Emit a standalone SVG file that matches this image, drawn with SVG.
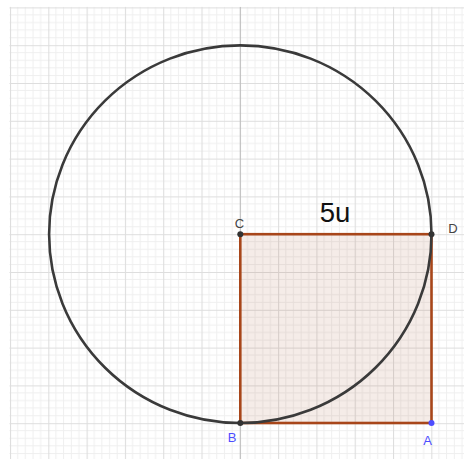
<svg xmlns="http://www.w3.org/2000/svg" width="464" height="459" viewBox="0 0 464 459">
<defs>
<style>
.minor{stroke:#efefef;stroke-width:1}
.major{stroke:#dedede;stroke-width:1.2}
.axis{stroke:#b4b4b4;stroke-width:0.8}
.lbl{font-family:"Liberation Sans",Arial,sans-serif;font-size:13px;text-anchor:middle}
.dark{fill:#444}
.blue{fill:#4d4dff}
</style>
<pattern id="grid" x="10" y="7.4" width="38.3" height="37.8" patternUnits="userSpaceOnUse">
<line class="minor" x1="7.66" y1="0" x2="7.66" y2="37.8"/>
<line class="minor" x1="15.32" y1="0" x2="15.32" y2="37.8"/>
<line class="minor" x1="22.98" y1="0" x2="22.98" y2="37.8"/>
<line class="minor" x1="30.64" y1="0" x2="30.64" y2="37.8"/>
<line class="minor" x1="0" y1="7.56" x2="38.3" y2="7.56"/>
<line class="minor" x1="0" y1="15.12" x2="38.3" y2="15.12"/>
<line class="minor" x1="0" y1="22.68" x2="38.3" y2="22.68"/>
<line class="minor" x1="0" y1="30.24" x2="38.3" y2="30.24"/>
<line class="major" x1="0.5" y1="0" x2="0.5" y2="37.8"/>
<line class="major" x1="0" y1="0.5" x2="38.3" y2="0.5"/>
</pattern>
</defs>
<rect width="464" height="459" fill="#ffffff"/>
<rect x="9.5" y="6.9" width="455" height="453" fill="url(#grid)"/>
<g id="axes">
<line class="axis" x1="240.3" y1="7" x2="240.3" y2="459"/>
</g>
<g id="square">
<rect x="240.3" y="234.2" width="191.2" height="188.8" fill="#a0461e" fill-opacity="0.1" stroke="#a8461a" stroke-width="2.6"/>
</g>
<g id="circle">
<ellipse cx="240.3" cy="234.2" rx="191.2" ry="188.8" fill="none" stroke="#3a3a3a" stroke-width="2.6"/>
</g>
<g id="pointC"><circle cx="240.3" cy="234.2" r="3" fill="#333"/><text class="lbl dark" x="239.5" y="228">C</text></g>
<g id="pointD"><circle cx="431.5" cy="234.2" r="3" fill="#333"/><text class="lbl dark" x="453" y="232.5">D</text></g>
<g id="pointB"><circle cx="240.3" cy="423" r="3" fill="#333"/><text class="lbl blue" x="232" y="442">B</text></g>
<g id="pointA"><circle cx="431.5" cy="423" r="3" fill="#4d4dff"/><text class="lbl blue" x="427.5" y="445">A</text></g>
<text x="335" y="222" font-family="'Liberation Sans',Arial,sans-serif" font-size="27.5" fill="#111" text-anchor="middle">5u</text>
</svg>
